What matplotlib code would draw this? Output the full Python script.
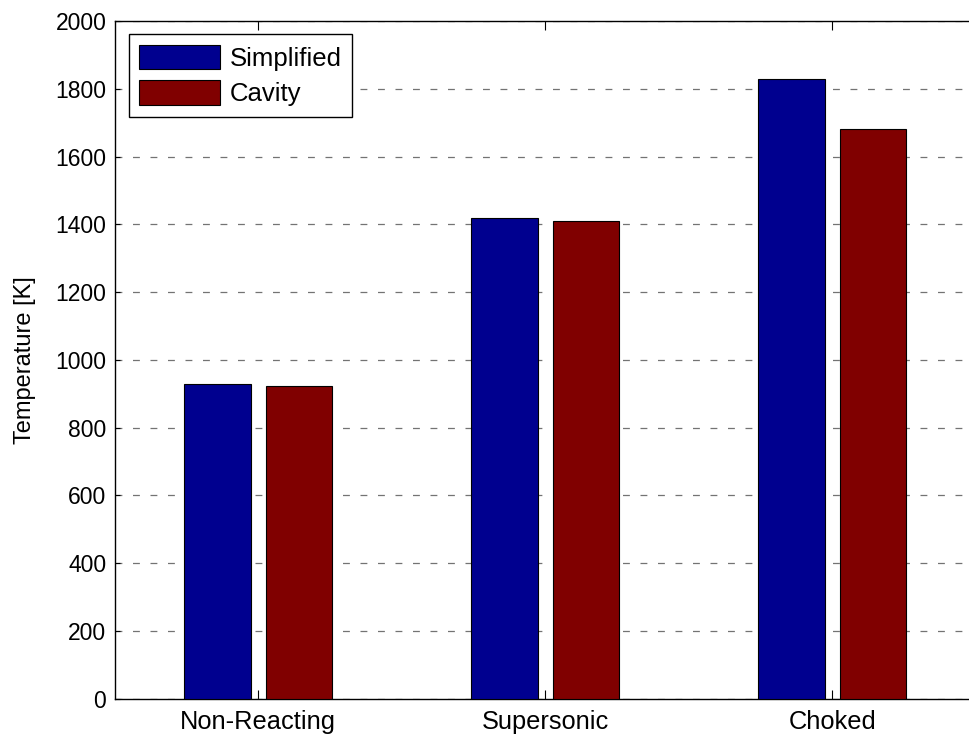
import numpy as np
import matplotlib
matplotlib.use("Agg")
import matplotlib.pyplot as plt

plt.rcParams['font.family'] = ['Liberation Sans', 'DejaVu Sans']

cases = ['Non-Reacting', 'Supersonic', 'Choked']
simplified = [930, 1420, 1830]
cavity = [924, 1409, 1682]
yticks = [0, 200, 400, 600, 800, 1000, 1200, 1400, 1600, 1800, 2000]

W, H = 969, 736
fig = plt.figure(figsize=(W / 100, H / 100), dpi=100)
ax = fig.add_axes([114.7 / W, (H - 698.7) / H, 861 / W, 677.7 / H])

x = np.arange(1, len(cases) + 1)
off = 0.142
bw = 0.232
ax.bar(x - off, simplified, bw, color='#00008f', edgecolor='black', linewidth=0.8,
       label='Simplified', zorder=3)
ax.bar(x + off, cavity, bw, color='#800000', edgecolor='black', linewidth=0.8,
       label='Cavity', zorder=3)

ax.set_xlim(0.5, 3.5)
ax.set_ylim(0, 2000)
ax.set_xticks(x)
ax.set_xticklabels(cases, fontsize=18.3)
ax.set_yticks(yticks)
ax.set_ylabel('Temperature [K]', fontsize=17, labelpad=14)

ax.yaxis.grid(True, color='0.45', linestyle=(0, (5.5, 8.5)), linewidth=0.9, zorder=0)
ax.set_axisbelow(True)

ax.tick_params(axis='both', direction='in', top=True, right=False)
ax.tick_params(axis='y', labelsize=16.5, length=3.6, pad=6)
ax.tick_params(axis='x', length=6.5, pad=8)
ax.spines['right'].set_visible(False)
for s in ax.spines.values():
    s.set_linewidth(1.0)

leg = ax.legend(loc='upper left', bbox_to_anchor=(128.7 / W, 1 - 34 / H),
                bbox_transform=fig.transFigure, borderaxespad=0,
                fontsize=18.5, handlelength=3.15, handleheight=1.09,
                labelspacing=0.37, handletextpad=0.35, borderpad=0.42,
                fancybox=False, shadow=False, framealpha=1)
leg.get_frame().set_edgecolor('black')
leg.get_frame().set_linewidth(1.0)

fig.savefig('out.png', dpi=100)
